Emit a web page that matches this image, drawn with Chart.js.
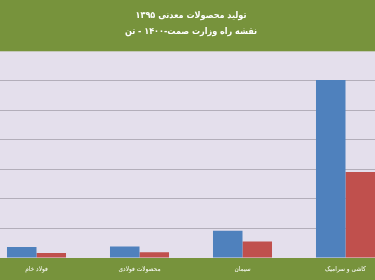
<!DOCTYPE html>
<html>
<head>
<meta charset="utf-8">
<script src="https://cdn.jsdelivr.net/npm/chart.js@4.4.0/dist/chart.umd.min.js"></script>
<style>
  html, body { margin: 0; padding: 0; background: #76923c; overflow: hidden; }
  #wrap { position: absolute; left: -15px; top: 0; width: 412px; height: 280px; }
</style>
</head>
<body>
<div id="wrap"><canvas id="bar__chart_production"></canvas></div>
<script>
const titleLines = ['تولید محصولات معدنی ۱۳۹۵', 'نقشه راه وزارت صمت-۱۴۰۰ - تن']
const categories = ['فولاد خام', 'محصولات فولادی', 'سیمان', 'کاشی و سرامیک']
const actual1395 = [37, 39, 92, 600]
const roadmap1400 = [17, 19, 56, 290]
const yStep = 100
const yMax = 697

const GREEN = '#77933c'
const PLOT_BG = '#e4dfec'
const FONT = "'DejaVu Sans Condensed', 'DejaVu Sans', sans-serif"

// green frame + lavender plot area, like the excel export
const bgPlugin = {
  id: 'bgPlugin',
  beforeDraw(chart) {
    const {ctx, chartArea: a, width, height} = chart
    ctx.save()
    ctx.fillStyle = GREEN
    ctx.fillRect(0, 0, width, height)
    ctx.fillStyle = PLOT_BG
    ctx.fillRect(a.left, a.top, a.right - a.left, a.bottom - a.top)
    ctx.restore()
  }
}

const ctxCanvas = document.getElementById('bar__chart_production').getContext('2d')
new Chart(ctxCanvas, {
  type: 'bar',
  data: {
    labels: categories,
    datasets: [
      {label: '۱۳۹۵', data: actual1395, backgroundColor: '#4f81bd', borderWidth: 0},
      {label: '۱۴۰۰', data: roadmap1400, backgroundColor: '#c0504d', borderWidth: 0}
    ]
  },
  options: {
    responsive: true,
    maintainAspectRatio: false,
    animation: false,
    devicePixelRatio: 1,
    categoryPercentage: 0.573,
    barPercentage: 1,
    layout: {padding: 0},
    plugins: {
      legend: {display: false},
      tooltip: {enabled: false},
      title: {
        display: true,
        text: titleLines,
        color: '#ffffff',
        font: {family: FONT, size: 9, weight: 'bold', lineHeight: 1.85},
        padding: {top: 7, bottom: 11}
      }
    },
    scales: {
      x: {
        grid: {display: false, drawTicks: false},
        border: {display: false},
        ticks: {color: '#ffffff', font: {family: FONT, size: 6.5}, padding: 7, maxRotation: 0},
        afterFit: s => { s.height = 22 }
      },
      y: {
        min: 0,
        max: yMax,
        grid: {
          drawTicks: false,
          lineWidth: 1,
          color: c => (c.index > 0 && c.tick && c.tick.value < yMax) ? '#b3aeba' : 'rgba(0,0,0,0)'
        },
        border: {display: false},
        ticks: {display: false, stepSize: yStep}
      }
    }
  },
  plugins: [bgPlugin]
})
</script>
</body>
</html>
